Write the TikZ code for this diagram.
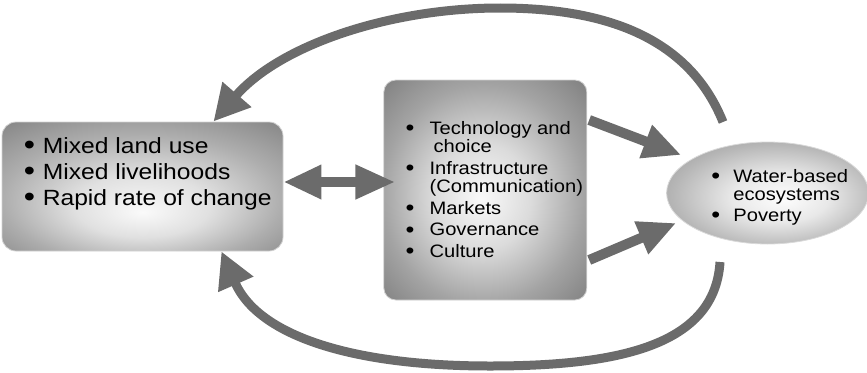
\documentclass[tikz,border=0pt]{standalone}
\usepackage{fontspec}
\setmainfont[FakeStretch=1.12]{Liberation Sans}
\usepackage{tikz}
\usetikzlibrary{positioning, arrows.meta, calc, shapes.geometric}
\definecolor{arrowgray}{HTML}{6B6B6B}
\pgfdeclareradialshading{glowlow}{\pgfpoint{0bp}{-10bp}}{color(0bp)=(black!2); color(12bp)=(black!12); color(25bp)=(black!32); color(36bp)=(black!46); color(50bp)=(black!54)}
\pgfdeclareradialshading{glow}{\pgfpoint{-1bp}{-2bp}}{color(0bp)=(black!2); color(12bp)=(black!14); color(25bp)=(black!36); color(36bp)=(black!50); color(50bp)=(black!57)}
\pgfdeclareradialshading{glowell}{\pgfpoint{4bp}{-3bp}}{color(0bp)=(black!1); color(12bp)=(black!9); color(25bp)=(black!28); color(36bp)=(black!42); color(50bp)=(black!48)}
\newcommand{\bul}[2]{\makebox[#1][l]{\raisebox{-0.12ex}{\scalebox{#2}{\textbullet}}}}

\begin{document}
\begin{tikzpicture}[x=1pt, y=-1pt,
    boxnode/.style={rectangle, rounded corners=14pt, draw=black!18, line width=0.8pt, shading=glow},
    ellnode/.style={ellipse, draw=black!15, line width=0.8pt, shading=glowell, minimum width=202pt, minimum height=102pt},
    bigtext/.style={font=\fontsize{22}{26}\selectfont, align=left, anchor=west, inner sep=0pt},
    smalltext/.style={font=\fontsize{18}{18.5}\selectfont, align=left, anchor=west, inner sep=0pt},
    bigarrow/.style={draw=arrowgray, line width=9pt, -{Triangle[length=36pt, width=36pt]}},
    fatarrow/.style={draw=arrowgray, line width=10pt, -{Triangle[length=38pt, width=33pt]}},
]
\useasboundingbox (0,0) rectangle (867,372);

\node[boxnode, shading=glowlow, minimum width=281pt, minimum height=129pt](land) at (142.5,186.5){};
\node[boxnode, minimum width=203pt, minimum height=220pt, rounded corners=12pt](mid)[right = 100pt of land, yshift=-3.5pt]{};
\node[ellnode](eco)[right = 79pt of mid, yshift=-3pt]{};

\node[bigtext](landtxt) at ([xshift=22pt, yshift=13pt]land.west)
    {\bul{19pt}{1.3}Mixed land use\\ \bul{19pt}{1.3}Mixed livelihoods\\ \bul{19pt}{1.3}Rapid rate of change};
\node[smalltext](midtxt) at ([xshift=22pt]mid.west)
    {\bul{24pt}{1.25}Technology and\\ \hspace*{28pt}choice\\[3pt]
     \bul{24pt}{1.25}Infrastructure\\ \hspace*{24pt}(Communication)\\[3pt]
     \bul{24pt}{1.25}Markets\\[3pt] \bul{24pt}{1.25}Governance\\[3pt] \bul{24pt}{1.25}Culture};
\node[smalltext](ecotxt) at ([xshift=45pt, yshift=-4pt]eco.west)
    {\bul{22pt}{1.25}Water-based\\ \hspace*{22pt}ecosystems\\[2pt] \bul{22pt}{1.25}Poverty};

\coordinate (topstart) at (723,122);
\coordinate (botstart) at (720,262);

\draw[bigarrow] (topstart) .. controls (690,40) and (610,8) .. (500,8)
    .. controls (390,8) and (280,45) .. ([xshift=-70pt]land.north east);
\draw[bigarrow] (botstart) .. controls (715,345) and (620,366) .. (490,366)
    .. controls (350,366) and (258,335) .. ([xshift=-62pt]land.south east);

\draw[fatarrow, {Triangle[length=38pt, width=32pt]}-{Triangle[length=40pt, width=32pt]}]
    ([yshift=4.5pt]land.east) -- ([xshift=12pt, yshift=8pt]mid.west);
\draw[fatarrow] ([xshift=2pt, yshift=70pt]mid.east) -- ([xshift=15pt, yshift=38pt]eco.west);
\draw[fatarrow] ([xshift=2pt, yshift=-70pt]mid.east) -- ([xshift=10pt, yshift=-30pt]eco.west);
\end{tikzpicture}
\end{document}
